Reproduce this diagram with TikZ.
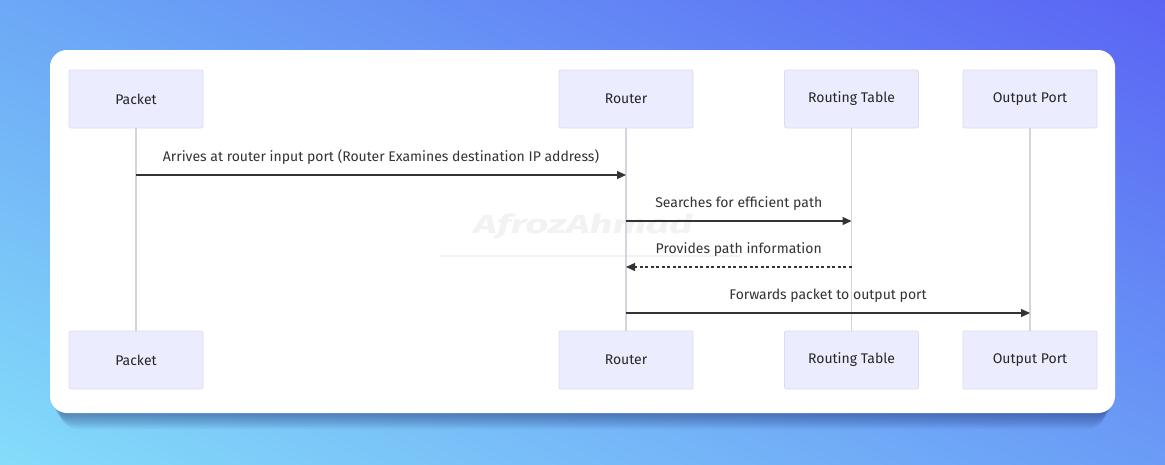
\documentclass[tikz,border=0pt]{standalone}
\usepackage{fontspec}
\setmainfont{Fira Sans}
\usetikzlibrary{positioning,arrows.meta,shadings}
\definecolor{actorfill}{HTML}{ECECFF}
\definecolor{actorline}{HTML}{DCDCEE}
\definecolor{lifeline}{HTML}{D4D4DC}
\definecolor{msgline}{HTML}{333333}
\definecolor{bgtl}{HTML}{6CA8F6}
\definecolor{bgtr}{HTML}{5A64F4}
\definecolor{bgbl}{HTML}{84DCFA}
\definecolor{bgbr}{HTML}{6A9CF6}
\definecolor{shadowc}{HTML}{1A2A6A}
\tikzset{
    actor/.style = {shape=rectangle, rounded corners=2pt, draw=actorline,
      fill=actorfill, line width=0.8pt, minimum width=134pt,
      minimum height=58pt, font=\fontsize{14}{16}\selectfont,
      text=black!85},
    life/.style = {draw=lifeline, line width=1.4pt},
    msg/.style = {draw=msgline, line width=1.3pt,
      -{Triangle[length=9pt,width=8pt]}},
    reply/.style = {msg, dash pattern=on 3pt off 2.5pt},
    msglabel/.style = {font=\fontsize{14}{16}\selectfont, text=black!80,
      above=7pt}
}
\begin{document}
\begin{tikzpicture}[x=1pt,y=-1pt]
  \useasboundingbox (0,0) rectangle (1165,464);
  % background and card
  \shade[upper left=bgtl, upper right=bgtr, lower left=bgbl,
    lower right=bgbr] (0,0) rectangle (1165,464);
  \foreach \i in {1,...,10}
    \fill[shadowc, opacity=0.05, rounded corners=17pt]
      (50+\i,56+0.8*\i) rectangle (1115-\i,413+1.6*\i);
  \fill[white, rounded corners=17pt] (50,50) rectangle (1115,413);
  % watermark
  \node[text=black!5, inner sep=0pt, transform shape, xscale=1.55,
    font=\fontsize{26}{26}\selectfont\bfseries\itshape]
    (mark) at (583,227) {AfrozAhmad};
  \draw[black!5, line width=1.2pt] (440,256) -- (740,256);
  % actors
  \node[actor] (pkt)  at (136,99) {Packet};
  \node[actor] (rtr)  at (626,99) {Router};
  \node[actor] (tbl)  at (851.5,99) {Routing Table};
  \node[actor] (port) at (1030,99) {Output Port};
  \node[actor] (pkt2)  at (136,360) {Packet};
  \node[actor] (rtr2)  at (626,360) {Router};
  \node[actor] (tbl2)  at (851.5,360) {Routing Table};
  \node[actor] (port2) at (1030,360) {Output Port};
  % lifelines
  \draw[life] (pkt) -- (pkt2);
  \draw[life] (rtr) -- (rtr2);
  \draw[life] (tbl) -- (tbl2);
  \draw[life] (port) -- (port2);
  % message points
  \coordinate (a1) at (pkt.south |- 0,175);
  \coordinate (b1) at (rtr.south |- 0,175);
  \coordinate (b2) at (rtr.south |- 0,221);
  \coordinate (c2) at (tbl.south |- 0,221);
  \coordinate (c3) at (tbl.south |- 0,267);
  \coordinate (b3) at (rtr.south |- 0,267);
  \coordinate (b4) at (rtr.south |- 0,313);
  \coordinate (d4) at (port.south |- 0,313);
  % messages
  \draw[msg] (a1) -- node[msglabel] {Arrives at router input port (Router Examines destination IP address)} (b1);
  \draw[msg] (b2) -- node[msglabel] {Searches for efficient path} (c2);
  \draw[reply] (c3) -- node[msglabel] {Provides path information} (b3);
  \draw[msg] (b4) -- node[msglabel] {Forwards packet to output port} (d4);
\end{tikzpicture}
\end{document}
